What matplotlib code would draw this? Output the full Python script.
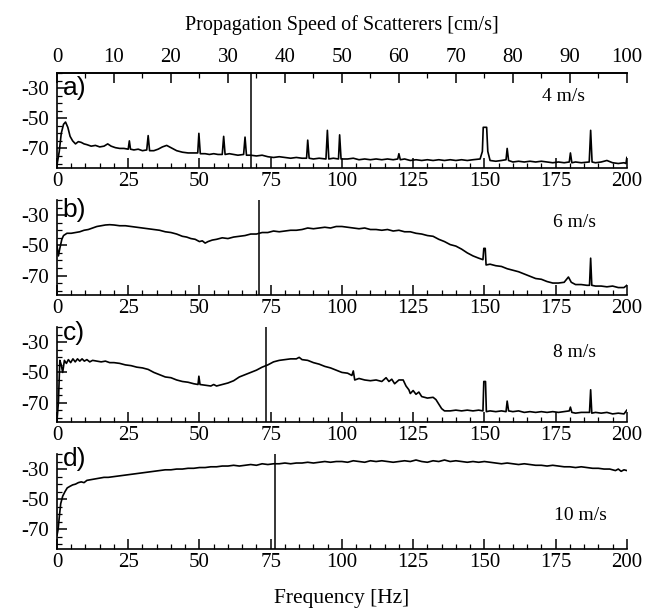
import matplotlib
matplotlib.use('Agg')
import matplotlib.pyplot as plt
from matplotlib.ticker import MultipleLocator, FixedLocator

plt.rcParams['font.family'] = ['Liberation Serif', 'DejaVu Serif']
plt.rcParams['axes.unicode_minus'] = False

# spectra: (frequency [Hz], level [dB])
spec_a = [
    (0, -81), (0.8, -72), (1.5, -60), (2.3, -54), (3, -52.5), (3.8, -56), (4.6, -62),
    (5.5, -65), (6.5, -67), (7.5, -65.5), (8.5, -66), (9.5, -67), (10.5, -67.5),
    (12, -68.5), (13.5, -68), (15, -69), (16.5, -68.5), (17.8, -67), (19, -68.5),
    (20.5, -69.5), (22, -70), (23.5, -70), (25, -70.5), (25.4, -65), (25.8, -70.5),
    (27, -71), (28.5, -70.5), (30, -71.5), (31.5, -71), (32, -61.5), (32.5, -71.5),
    (34, -71.5), (35.5, -70.5), (37, -69), (38.5, -68), (40, -69.5), (42, -71.5),
    (44, -72.5), (46, -73), (48, -73), (49.4, -73), (49.8, -60), (50.3, -73.5),
    (52, -73.5), (53.5, -74), (55, -73.5), (56.5, -74), (58, -74), (58.5, -62),
    (59, -74), (60.5, -73.5), (62, -74), (63.5, -74.5), (65.5, -74), (66, -62.5),
    (66.5, -74.5), (68, -74.5), (70, -75), (72, -74.5), (74, -75.5), (76, -76),
    (78, -75.5), (80, -76), (82, -76.5), (84, -76), (86, -76.5), (87.6, -76.5),
    (88, -64.5), (88.5, -76.5), (90, -77), (92, -76.5), (94.4, -77), (94.9, -58),
    (95.4, -77), (97, -76.5), (98.8, -77), (99.2, -61), (99.7, -77), (102, -77),
    (104, -76.5), (106, -77.5), (108, -77), (110, -77.5), (112, -77), (114, -77.5),
    (116, -77), (118, -77.5), (119.6, -77), (120, -73.5), (120.5, -77.5), (122, -77),
    (124, -78), (126, -77.5), (128, -78), (130, -77.5), (132, -78), (134, -77.5),
    (136, -78), (138, -77.5), (140, -78), (142, -77.5), (144, -78), (146, -77.5),
    (148.5, -77), (149.3, -72), (149.6, -56), (150.8, -56), (151.2, -72), (152, -78),
    (154, -78.5), (156, -78), (157.6, -77.5), (158, -70), (158.5, -78), (160, -79),
    (162, -78.5), (164, -79), (166, -78.5), (168, -79), (170, -78.5), (172, -79),
    (174, -79.5), (176, -79), (178, -79.5), (179.8, -79), (180.2, -73), (180.7, -79.5),
    (182, -79), (184, -79.5), (186.8, -79), (187.3, -58), (187.8, -79), (189, -79.5),
    (191, -79), (193, -78), (195, -79.5), (197, -80), (199, -79.5), (199.7, -80),
    (200, -76),
]

spec_b = [
    (0, -50), (0.5, -57), (1, -52), (1.7, -46), (2.3, -43.5), (3.5, -42), (5, -42),
    (6.5, -41.5), (8, -41), (9.5, -40), (11, -39.5), (12.5, -38.5), (14, -37.5),
    (15.5, -37), (17, -36.5), (18.5, -36.3), (20, -36.5), (22, -37), (24, -37),
    (26, -37.5), (28, -38), (30, -38.5), (32, -39), (34, -39.5), (36, -40),
    (38, -41), (40, -41.5), (42, -42.5), (44, -44), (45.5, -44.5), (47, -45.5),
    (48.5, -46), (50, -47.5), (51, -47), (52, -48.5), (53, -47.5), (54.5, -46.5),
    (56, -46), (58, -45), (60, -45.5), (62, -44.5), (64, -44), (66, -43.5),
    (68, -42.5), (70, -42.5), (72, -41.5), (74, -41.5), (76, -40.5), (78, -41),
    (80, -40.5), (82, -40), (84, -40), (86, -39.5), (88, -38.5), (90, -39),
    (92, -38.5), (94, -38), (96, -38.5), (98, -37.5), (100, -37.5), (102, -38),
    (104, -38.5), (106, -39), (108, -38.5), (110, -39.5), (112, -39.5), (114, -40),
    (116, -39.5), (118, -40.5), (120, -40), (122, -41), (124, -41), (126, -42),
    (128, -42.5), (130, -43.5), (132, -44), (134, -46), (136, -47.5), (138, -49.5),
    (140, -50.5), (142, -52.5), (144, -55), (146, -57), (148, -58.5), (149.5, -59.5),
    (149.8, -52), (150.3, -52), (150.6, -63), (152, -62.5), (154, -63.5), (156, -64),
    (158, -65.5), (160, -66.5), (162, -67.5), (164, -69), (166, -70.5), (168, -72),
    (170, -72.5), (172, -74), (174, -75), (176, -75), (178, -74.5), (179.5, -71),
    (180.5, -74.5), (182, -76), (184, -76), (186, -76.5), (186.9, -76.5),
    (187.3, -58.5), (187.7, -76.5), (189, -77), (191, -77), (193, -77.5),
    (195, -77), (197, -78), (199, -78), (200, -76.5),
]

spec_c = [
    (0, -82), (0.5, -70), (1, -42), (1.5, -45), (2, -50), (2.6, -42), (3.3, -44),
    (4, -41.5), (4.8, -43.5), (5.6, -41), (6.4, -43), (7.2, -41), (8, -42.5),
    (8.8, -41), (9.6, -42.5), (10.5, -41.5), (11.5, -43), (12.5, -42), (14, -42.5),
    (15.5, -43), (17, -42.5), (18.5, -43.5), (20, -43.5), (22, -44), (24, -45),
    (26, -45.5), (28, -46.5), (30, -47), (32, -48), (34, -50), (36, -51.5),
    (38, -53), (40, -53.5), (42, -55), (44, -56), (46, -56.5), (48, -57.5),
    (49.5, -58), (49.8, -52.5), (50.2, -58), (52, -58.5), (54, -59), (55, -58),
    (56, -59), (57, -58.5), (58, -58), (60, -57), (62, -55.5), (64, -53),
    (66, -51.5), (68, -50), (70, -48.5), (72, -46.5), (74, -45), (76, -43),
    (78, -42), (80, -41.5), (82, -41), (84, -41), (85, -40), (86, -41.5),
    (88, -42), (90, -43.5), (92, -44.5), (94, -46), (96, -47), (98, -48.5),
    (100, -50), (102, -50.5), (103.5, -52), (104, -49), (104.5, -55), (106, -54),
    (108, -55), (110, -55.5), (112, -55), (114, -56), (115.5, -53.5), (116.5, -56),
    (117.5, -54.5), (118.5, -57.5), (120, -55), (121.5, -55), (122.5, -59),
    (123.5, -61.5), (124, -64), (125, -62), (126, -64.5), (127, -63), (128, -66),
    (130, -67), (132, -66.5), (133, -68), (134, -71), (135, -74), (136, -75.5),
    (138, -75.5), (140, -75), (142, -75.5), (144, -75), (146, -75.5), (148, -75),
    (149.5, -75.5), (149.8, -56), (150.4, -56), (150.7, -76), (152, -75.5),
    (154, -76), (156, -75.5), (157.6, -76), (158, -69), (158.5, -75.5), (160, -76),
    (162, -75.5), (164, -76.5), (166, -76), (168, -76.5), (170, -76), (172, -76.5),
    (174, -76), (176, -76.5), (178, -76), (179.8, -75.5), (180.2, -73),
    (180.7, -76.5), (182, -77), (184, -76.5), (186.9, -76.5), (187.3, -61.5),
    (187.7, -77), (189, -76.5), (191, -77), (193, -76.5), (195, -77.5),
    (197, -77), (199, -77.5), (200, -75),
]

spec_d = [
    (0, -74), (0.4, -70), (0.8, -62), (1.3, -53), (2, -48), (2.8, -45),
    (3.6, -42.5), (4.5, -41.5), (5.5, -40.5), (6.5, -40), (7.5, -39), (8.5, -38.5),
    (9.5, -39), (10.5, -37.5), (12, -37), (13.5, -36.5), (15, -36), (16.5, -35.5),
    (18, -35.5), (20, -35), (22, -34.5), (24, -34), (26, -33.5), (28, -33),
    (30, -32.5), (32, -32), (34, -31.5), (36, -31), (38, -30.5), (40, -30.5),
    (42, -30), (44, -30), (46, -29.5), (48, -29.5), (50, -29), (52, -29),
    (54, -28.5), (56, -28.5), (58, -28), (60, -28), (62, -27.5), (64, -28),
    (66, -27.5), (68, -27), (70, -27.5), (72, -26.5), (74, -27), (76, -26.5),
    (78, -26.5), (80, -26), (82, -26.5), (84, -26), (86, -26), (88, -25.5),
    (90, -26), (92, -25.5), (94, -25), (96, -25.5), (98, -25), (100, -25),
    (102, -25.5), (104, -24.5), (106, -25), (108, -25.5), (110, -24.5), (112, -25),
    (114, -24.5), (116, -25), (118, -25.5), (120, -25), (122, -24.5), (124, -25),
    (126, -24), (128, -25), (130, -25.5), (132, -24.5), (134, -25), (136, -24),
    (138, -25), (140, -24.5), (142, -25), (144, -25.5), (146, -25), (148, -25.5),
    (150, -25), (152, -25.5), (154, -26), (156, -26.5), (158, -26), (160, -26.5),
    (162, -27), (164, -26.5), (166, -27), (168, -27.5), (170, -27.5), (172, -28),
    (174, -27.5), (176, -28), (178, -28.5), (180, -28.5), (182, -29), (184, -28.5),
    (186, -29), (188, -29.5), (190, -29.5), (192, -30), (194, -30), (196, -31),
    (197, -30), (198, -31.5), (199, -30.5), (200, -31),
]

spectra = [spec_a, spec_b, spec_c, spec_d]
panel_labels = ['a)', 'b)', 'c)', 'd)']
speed_labels = ['4 m/s', '6 m/s', '8 m/s', '10 m/s']
marker_freqs = [68, 71, 73.5, 76.5]   # vertical marker line in each panel
freq_ticks = [0, 25, 50, 75, 100, 125, 150, 175, 200]
speed_ticks = [0, 10, 20, 30, 40, 50, 60, 70, 80, 90, 100]
db_ticks = [-30, -50, -70]

fig = plt.figure(figsize=(6.55, 6.11), dpi=100)

bottoms = [0.725, 0.517, 0.309, 0.1015]
speed_pos = [(0.888, 0.75), (0.909, 0.76), (0.909, 0.73), (0.918, 0.35)]
letter_y = [0.84, 0.90, 0.94, 0.95]

for i, spec in enumerate(spectra):
    ax = fig.add_axes([0.087, bottoms[i], 0.870, 0.1555])
    freq = [p[0] for p in spec]
    level = [p[1] for p in spec]
    ax.plot(freq, level, color='black', lw=1.2)
    ax.axvline(marker_freqs[i], color='black', lw=1.1)

    ax.set_xlim(0, 200)
    ax.set_ylim(-83, -20)
    ax.spines['right'].set_visible(False)
    if i > 0:
        ax.spines['top'].set_visible(False)
    for s in ['left', 'bottom', 'top']:
        ax.spines[s].set_linewidth(1.2)

    ax.xaxis.set_major_locator(FixedLocator(freq_ticks))
    ax.xaxis.set_minor_locator(MultipleLocator(5))
    ax.yaxis.set_major_locator(FixedLocator(db_ticks))
    ax.yaxis.set_minor_locator(MultipleLocator(5))
    ax.tick_params(which='major', direction='in', length=7, width=1.1,
                   labelsize=15, pad=3)
    ax.tick_params(which='minor', direction='in', length=3.5, width=0.9)
    ax.tick_params(axis='y', which='major', pad=6)

    ax.text(0.01, letter_y[i], panel_labels[i], transform=ax.transAxes,
            fontsize=19, family=['Liberation Sans', 'DejaVu Sans'],
            ha='left', va='center')
    ax.text(speed_pos[i][0], speed_pos[i][1], speed_labels[i],
            transform=ax.transAxes, fontsize=14, ha='center', va='center')

    if i == 0:
        top = ax.twiny()
        top.set_xlim(0, 100)
        top.xaxis.set_major_locator(FixedLocator(speed_ticks))
        top.xaxis.set_minor_locator(MultipleLocator(5))
        top.tick_params(which='major', direction='in', length=7, width=1.1,
                        labelsize=15, pad=4)
        top.tick_params(which='minor', direction='in', length=3.5, width=0.9)
        for s in ['left', 'right', 'bottom']:
            top.spines[s].set_visible(False)
        top.spines['top'].set_linewidth(1.2)
        top.set_xlabel('Propagation Speed of Scatterers [cm/s]', fontsize=14.5,
                       labelpad=13)
    if i == 3:
        ax.set_xlabel('Frequency [Hz]', fontsize=15.5, labelpad=12)

fig.savefig('out.png', dpi=100)
